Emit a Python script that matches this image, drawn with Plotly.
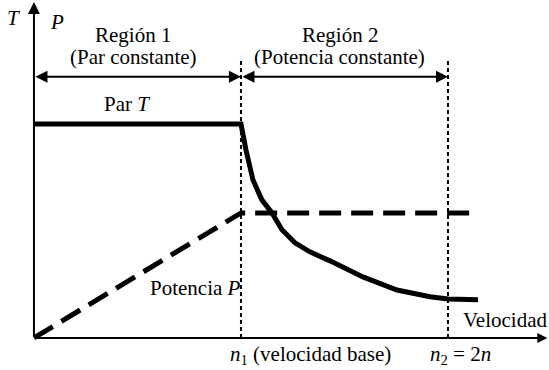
import plotly.graph_objects as go

# -------------------------------
# 1. Data (speed in units of n1, torque/power normalised to rated torque)
# -------------------------------
n1 = 1.0
n2 = 2.0

speed_torque = [0.0, 1.0, 1.012, 1.024, 1.058, 1.101, 1.150, 1.198, 1.261, 1.333,
                1.430, 1.589, 1.754, 1.913, 2.0, 2.145]
torque = [1.0, 1.0, 0.94, 0.879, 0.738, 0.645, 0.584, 0.505, 0.444, 0.402,
          0.360, 0.285, 0.224, 0.192, 0.182, 0.178]

speed_power = [0.0, 1.0, 2.12]
power = [0.0, 0.584, 0.584]

FONT = "Liberation Serif"

# -------------------------------
# 2. Curves
# -------------------------------
fig = go.Figure()

fig.add_trace(go.Scatter(
    x=speed_torque, y=torque, mode="lines",
    line=dict(color="black", width=5),
    hoverinfo="skip",
))
fig.add_trace(go.Scatter(
    x=speed_power, y=power, mode="lines",
    line=dict(color="black", width=5, dash="22px,10px"),
    hoverinfo="skip",
))

# vertical dashed guides at n1 and n2
for xv in [n1, n2]:
    fig.add_shape(type="line", x0=xv, x1=xv, y0=0, y1=1.30,
                  line=dict(color="black", width=2, dash="4px,3px"))

# -------------------------------
# 3. Axes and region arrows
# -------------------------------
arrow = dict(showarrow=True, arrowcolor="black", text="",
             axref="x", ayref="y", xref="x", yref="y")

fig.add_annotation(x=0, y=1.57, ax=0, ay=0, arrowhead=2, arrowsize=1.2,
                   arrowwidth=2, **arrow)
fig.add_annotation(x=2.48, y=0, ax=0, ay=0, arrowhead=2, arrowsize=1,
                   arrowwidth=2, **arrow)
fig.add_annotation(x=n1, y=1.22, ax=0, ay=1.22, arrowhead=2, arrowside="end+start",
                   arrowsize=1.2, arrowwidth=2, **arrow)
fig.add_annotation(x=n2, y=1.22, ax=n1, ay=1.22, arrowhead=2, arrowside="end+start",
                   arrowsize=1.2, arrowwidth=2, **arrow)

# -------------------------------
# 4. Labels
# -------------------------------
labels = [
    (-0.10, 1.495, "<i>T</i>", "center"),
    (0.111, 1.477, "<i>P</i>", "center"),
    (0.48, 1.416, "Región 1", "center"),
    (0.48, 1.313, "(Par constante)", "center"),
    (1.478, 1.416, "Región 2", "center"),
    (1.478, 1.313, "(Potencia constante)", "center"),
    (0.449, 1.093, "Par <i>T</i>", "center"),
    (0.551, 0.234, "Potencia <i>P</i>", "left"),
    (2.488, 0.084, "Velocidad", "right"),
    (0.937, -0.079, "<i>n</i><sub>1</sub> (velocidad base)", "left"),
    (1.903, -0.079, "<i>n</i><sub>2</sub> = 2<i>n</i>", "left"),
]
for x, y, t, al in labels:
    fig.add_annotation(x=x, y=y, text=t, showarrow=False, xanchor=al,
                       yanchor="middle", font=dict(family=FONT, size=21, color="black"))

fig.update_layout(
    width=549, height=370,
    margin=dict(l=0, r=0, t=0, b=0),
    font=dict(family=FONT, size=21, color="black"),
    plot_bgcolor="white", paper_bgcolor="white",
    showlegend=False,
    xaxis=dict(visible=False, range=[-0.164, 2.488], fixedrange=True),
    yaxis=dict(visible=False, range=[-0.150, 1.579], fixedrange=True),
)

fig.write_html("out.html", config={"displayModeBar": False},
               post_script="document.body.style.margin='0';document.body.style.overflow='hidden';")
